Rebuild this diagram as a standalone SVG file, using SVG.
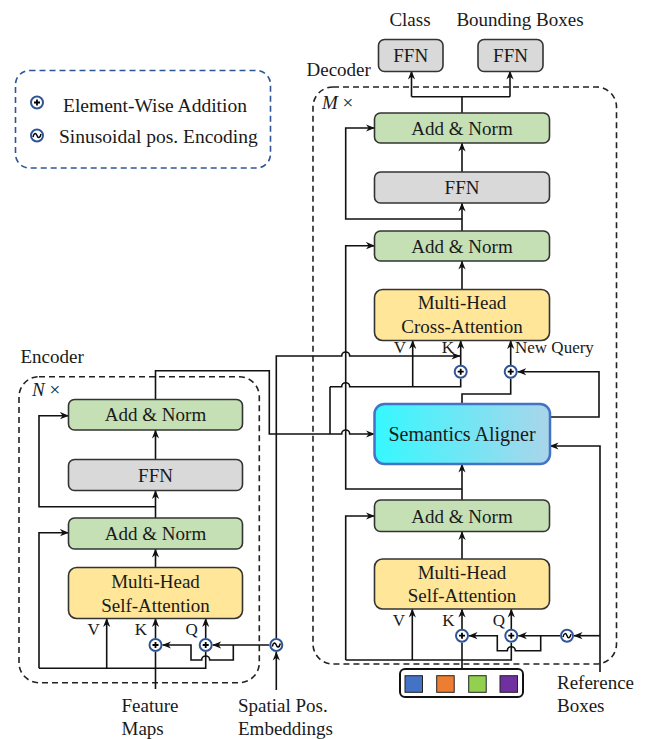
<svg xmlns="http://www.w3.org/2000/svg" width="646" height="739" viewBox="0 0 646 739">
<defs>
<style>
text{font-family:"Liberation Serif","Times New Roman",serif;fill:#1a1a1a}
.lbl{font-size:19px;text-anchor:middle}
.sm{font-size:17px;text-anchor:middle}
.box{stroke:#333;stroke-width:1.6}
.an{fill:#C5E0B4}
.ffn{fill:#D9D9D9}
.mha{fill:#FFE699}
.dash{fill:none;stroke:#222;stroke-width:1.6;stroke-dasharray:6 4}
.c{fill:none;stroke:#111;stroke-width:1.6}
.a{marker-end:url(#ah)}
</style>
<marker id="ah" viewBox="0 0 10 10" refX="9.5" refY="5" markerWidth="9" markerHeight="9" markerUnits="userSpaceOnUse" orient="auto"><path d="M0,1 L10,5 L0,9 L3,5 z" fill="#111"/></marker>
<linearGradient id="sa" x1="0" y1="0" x2="1" y2="0"><stop offset="0" stop-color="#35F8FF"/><stop offset="1" stop-color="#AAD5EA"/></linearGradient>
<g id="plus"><circle r="6" fill="#fff" stroke="#2F5597" stroke-width="2"/><path d="M-3,0H3M0,-3V3" stroke="#000" stroke-width="1.8"/></g>
<g id="sine"><circle r="6" fill="#fff" stroke="#2F5597" stroke-width="2"/><path d="M-4,1.5 C-3,-3 -1,-3 0,0 S3,3 4,-1.5" fill="none" stroke="#000" stroke-width="1.5"/></g>
</defs>
<rect width="646" height="739" fill="#fff"/>

<g id="legend">
<rect x="15.5" y="70.5" width="255" height="97.5" rx="14" fill="none" stroke="#2F5597" stroke-width="1.6" stroke-dasharray="6 4"/>
<use href="#plus" x="37" y="102.5"/>
<text x="63" y="112" font-size="19.5">Element-Wise Addition</text>
<use href="#sine" x="37" y="135.5"/>
<text x="59" y="143" font-size="19.5">Sinusoidal pos. Encoding</text>
</g>

<g id="decoder-frame">
<rect x="313" y="87" width="303.5" height="577" rx="20" class="dash"/>
<text x="306.5" y="76" font-size="19">Decoder</text>
<text x="322" y="109" font-size="19"><tspan font-style="italic">M</tspan> ×</text>
</g>
<g id="encoder-frame">
<rect x="19" y="376.7" width="240.3" height="306" rx="20" class="dash"/>
<text x="20.5" y="363" font-size="19">Encoder</text>
<text x="32" y="396" font-size="19"><tspan font-style="italic">N</tspan> ×</text>
</g>

<g id="connectors">
<!-- decoder outputs -->
<path class="c" d="M462,113V96.7M411.5,96.7H510"/>
<path class="c a" d="M411.5,96.7V71"/>
<path class="c a" d="M510,96.7V71"/>
<!-- decoder stack -->
<path class="c a" d="M462,172V143"/>
<path class="c a" d="M462,231V203"/>
<path class="c a" d="M462,219H345.7V128H374.5"/>
<path class="c a" d="M462,289.5V261"/>
<path class="c a" d="M462,489H345.7V245.7H374.5"/>
<path class="c a" d="M462,500V464"/>
<path class="c a" d="M462,559V531.5"/>
<path class="c a" d="M345.7,660V516H374.5"/>
<path class="c" d="M345.7,660H511.3V642.7"/>
<path class="c" d="M462,669V642.7"/>
<path class="c a" d="M412.3,660V609"/>
<path class="c a" d="M462,629.7V609"/>
<path class="c a" d="M511.3,629.7V609"/>
<path class="c a" d="M600,672V446H550"/>
<path class="c a" d="M600,635.7H574"/>
<path class="c a" d="M560,635.7H518.3"/>
<path class="c a" d="M540.7,635.7V650.7H515.3A4,4 0 0 0 507.3,650.7H497.3V635.7H469"/>
<!-- cross attention inputs -->
<path class="c" d="M330,386.7H341.7A4,4 0 0 1 349.7,386.7H460.7V378.7"/>
<path class="c a" d="M412.7,386.7V340.5"/>
<path class="c a" d="M460.7,365.7V340.5"/>
<path class="c a" d="M276.3,638V356H341.7A4,4 0 0 1 349.7,356H460"/>
<path class="c a" d="M155.5,399.5V370.7H269.3V434H341.7A4,4 0 0 1 349.7,434H374.5"/>
<path class="c" d="M330,434V386.7"/>
<!-- new query -->
<path class="c a" d="M510.7,365.7V340.5"/>
<path class="c" d="M462,404V394H510.7V378.7"/>
<path class="c a" d="M550,417H599V371.7H517.7"/>
<!-- encoder stack -->
<path class="c a" d="M155.5,459.5V430"/>
<path class="c a" d="M155.5,518V490.5"/>
<path class="c a" d="M155.5,506.7H39V415.7H68.5"/>
<path class="c a" d="M155.5,567.5V549"/>
<path class="c a" d="M39,668.3V532.7H68.5"/>
<path class="c" d="M39,668.3H205.7V652"/>
<path class="c a" d="M106.7,668.3V618.5"/>
<path class="c" d="M155.5,689V652"/>
<path class="c a" d="M155.5,638V618.5"/>
<path class="c a" d="M205.7,638V618.5"/>
<path class="c a" d="M276.3,690V652"/>
<path class="c a" d="M269.3,645H212.7"/>
<path class="c a" d="M233.3,645V660H209.7A4,4 0 0 0 201.7,660H191V645H162.5"/>
</g>

<g id="ffn-class">
<rect x="378.5" y="39.5" width="64.5" height="32" rx="6" class="box ffn"/>
<text x="410.7" y="62" class="lbl">FFN</text>
<text x="410" y="26" class="lbl">Class</text>
</g>
<g id="ffn-bbox">
<rect x="478" y="39.5" width="65" height="32" rx="6" class="box ffn"/>
<text x="510.5" y="62" class="lbl">FFN</text>
<text x="520" y="26" class="lbl">Bounding Boxes</text>
</g>

<g id="dec-addnorm3">
<rect x="374.5" y="113" width="175" height="30" rx="6" class="box an"/>
<text x="462" y="134.5" class="lbl">Add &amp; Norm</text>
</g>
<g id="dec-ffn">
<rect x="374.5" y="172" width="175" height="31" rx="6" class="box ffn"/>
<text x="462" y="194" class="lbl">FFN</text>
</g>
<g id="dec-addnorm2">
<rect x="374.5" y="231" width="175" height="30" rx="6" class="box an"/>
<text x="462" y="252.5" class="lbl">Add &amp; Norm</text>
</g>
<g id="dec-cross-attn">
<rect x="374.5" y="289.5" width="175" height="51" rx="8" class="box mha"/>
<text x="462" y="309" class="lbl">Multi-Head</text>
<text x="462" y="333" class="lbl">Cross-Attention</text>
<text x="400" y="353" class="sm">V</text>
<text x="448" y="353" class="sm">K</text>
<text x="515" y="353" font-size="17">New Query</text>
</g>
<g id="semantics-aligner">
<rect x="374.5" y="404" width="175.5" height="60" rx="10" fill="url(#sa)" stroke="#4472C4" stroke-width="2.5"/>
<text x="462" y="441" font-size="20" text-anchor="middle">Semantics Aligner</text>
</g>
<g id="dec-addnorm1">
<rect x="374.5" y="500" width="175" height="31.5" rx="6" class="box an"/>
<text x="462" y="522.5" class="lbl">Add &amp; Norm</text>
</g>
<g id="dec-self-attn">
<rect x="374.5" y="559" width="175" height="50" rx="8" class="box mha"/>
<text x="462" y="579" class="lbl">Multi-Head</text>
<text x="462" y="602" class="lbl">Self-Attention</text>
<text x="399" y="626" class="sm">V</text>
<text x="448.3" y="626" class="sm">K</text>
<text x="499" y="626" class="sm">Q</text>
</g>
<g id="dec-ops">
<use href="#plus" x="460.7" y="371.7"/>
<use href="#plus" x="510.7" y="371.7"/>
<use href="#plus" x="462" y="635.7"/>
<use href="#plus" x="511.3" y="635.7"/>
<use href="#sine" x="567" y="635.7"/>
</g>
<g id="queries">
<rect x="400" y="669" width="123" height="28" rx="5" fill="#fff" stroke="#111" stroke-width="2"/>
<rect x="405" y="675.7" width="17.5" height="16.6" fill="#4472C4" stroke="#222" stroke-width="1"/>
<rect x="436.7" y="675.7" width="17.5" height="16.6" fill="#ED7D31" stroke="#222" stroke-width="1"/>
<rect x="468.7" y="675.7" width="17.5" height="16.6" fill="#92D050" stroke="#222" stroke-width="1"/>
<rect x="500" y="675.7" width="17.5" height="16.6" fill="#7030A0" stroke="#222" stroke-width="1"/>
</g>
<g id="reference-boxes">
<text x="557" y="689" font-size="19">Reference</text>
<text x="557" y="712" font-size="19">Boxes</text>
</g>

<g id="enc-addnorm2">
<rect x="68.5" y="399.5" width="174" height="30.5" rx="6" class="box an"/>
<text x="155.5" y="421" class="lbl">Add &amp; Norm</text>
</g>
<g id="enc-ffn">
<rect x="68.5" y="459.5" width="174" height="31" rx="6" class="box ffn"/>
<text x="155.5" y="481.5" class="lbl">FFN</text>
</g>
<g id="enc-addnorm1">
<rect x="68.5" y="518" width="174" height="31" rx="6" class="box an"/>
<text x="155.5" y="540" class="lbl">Add &amp; Norm</text>
</g>
<g id="enc-self-attn">
<rect x="68.5" y="567.5" width="174" height="51" rx="8" class="box mha"/>
<text x="155.5" y="588" class="lbl">Multi-Head</text>
<text x="155.5" y="611.5" class="lbl">Self-Attention</text>
<text x="93.7" y="635" class="sm">V</text>
<text x="141" y="635" class="sm">K</text>
<text x="191.7" y="635" class="sm">Q</text>
</g>
<g id="enc-ops">
<use href="#plus" x="155.5" y="645"/>
<use href="#plus" x="205.7" y="645"/>
<use href="#sine" x="276.3" y="645"/>
</g>
<g id="feature-maps">
<text x="121.5" y="712" font-size="19">Feature</text>
<text x="121.5" y="735" font-size="19">Maps</text>
</g>
<g id="spatial-pos">
<text x="238" y="712" font-size="19">Spatial Pos.</text>
<text x="238" y="735" font-size="19">Embeddings</text>
</g>
</svg>
